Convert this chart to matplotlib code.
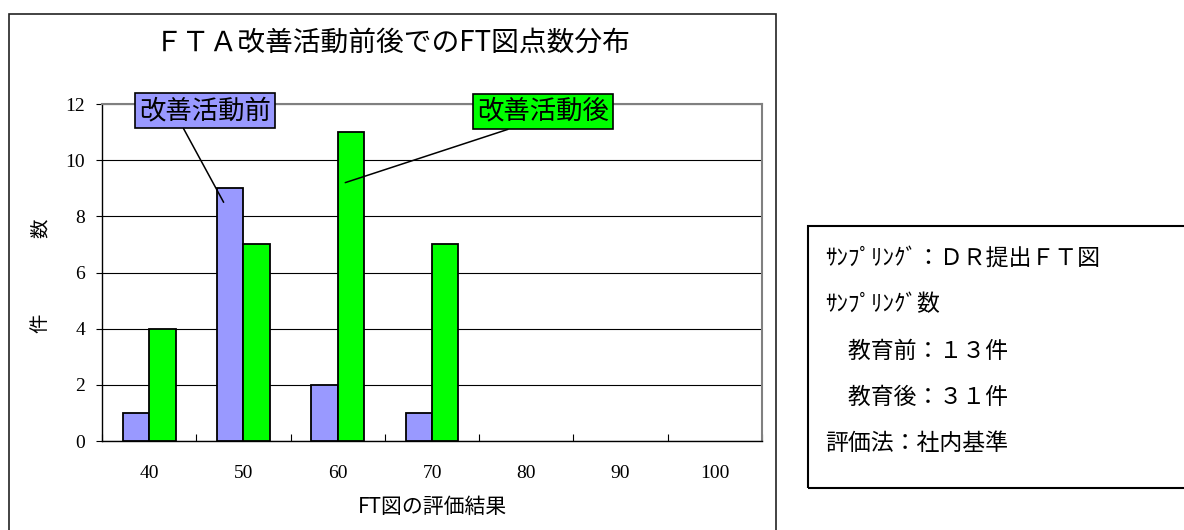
"""FTA改善活動前後でのFT図点数分布 — grouped bar chart with callouts and a note box."""
import matplotlib
matplotlib.use("Agg")
import matplotlib.pyplot as plt
from matplotlib.patches import Rectangle
import numpy as np

CJK = ["Noto Sans CJK JP", "DejaVu Sans"]
SERIF = ["Liberation Serif", "DejaVu Serif"]

categories = ["40", "50", "60", "70", "80", "90", "100"]
before = [1, 9, 2, 1, 0, 0, 0]     # 改善活動前
after = [4, 7, 11, 7, 0, 0, 0]     # 改善活動後
yticks = [0, 2, 4, 6, 8, 10, 12]

title = "ＦＴＡ改善活動前後でのFT図点数分布"
xlabel = "FT図の評価結果"
ylabel = ["件", "数"]
note_lines = ["ｻﾝﾌﾟﾘﾝｸﾞ：ＤＲ提出ＦＴ図", "ｻﾝﾌﾟﾘﾝｸﾞ数", "　教育前：１３件",
              "　教育後：３１件", "評価法：社内基準"]

BLUE = "#9999FF"
GREEN = "#00FF00"
W, H = 1184, 530

fig = plt.figure(figsize=(W / 100, H / 100), dpi=100)

# outer chart frame
fig.patches.append(Rectangle((9 / W, -0.02), (776 - 9) / W, 1.02 - 14 / H,
                             transform=fig.transFigure, fill=False,
                             edgecolor="#222222", linewidth=1.2))
fig.text(393 / W, 1 - 43 / H, title, family=CJK, fontsize=20,
         ha="center", va="center")

ax = fig.add_axes([102 / W, 89 / H, 660 / W, 337 / H])
x = np.arange(len(categories))
bw = 0.28
b = np.array(before)
a = np.array(after)
ax.bar(x[b > 0] - bw / 2, b[b > 0], bw, color=BLUE, edgecolor="black", linewidth=1.3, zorder=3)
ax.bar(x[a > 0] + bw / 2, a[a > 0], bw, color=GREEN, edgecolor="black", linewidth=1.3, zorder=3)

ax.set_xlim(-0.5, len(categories) - 0.5)
ax.set_ylim(0, 12)
ax.set_yticks(yticks)
ax.set_yticklabels([str(v) for v in yticks], family=SERIF, fontsize=14)
ax.set_xticks(x)
ax.set_xticklabels(categories, family=SERIF, fontsize=14)
ax.set_xticks(np.arange(len(categories) + 1) - 0.5, minor=True)
ax.tick_params(axis="x", which="major", length=0, pad=17)
ax.tick_params(axis="x", which="minor", direction="in", length=5, width=0.8)
ax.tick_params(axis="y", direction="out", length=4, width=0.8, pad=8)
ax.grid(axis="y", color="black", linewidth=0.8, zorder=0)
for s in ("top", "right"):
    ax.spines[s].set_color("#808080")
    ax.spines[s].set_linewidth(1.5)
for s in ("left", "bottom"):
    ax.spines[s].set_color("black")
    ax.spines[s].set_linewidth(1.0)

ax.set_xlabel(xlabel, family=CJK, fontsize=15)
ax.xaxis.set_label_coords(0.5, -0.196)
ax.xaxis.label.set_va("center")
# y label: two characters spread apart as in the original
for ch, yy in zip(ylabel, [0.35, 0.63]):
    ax.text(-0.094, yy, ch, transform=ax.transAxes, family=CJK, fontsize=14,
            rotation=90, ha="center", va="center")

# callouts
ax.annotate("改善活動前", xy=(0.79, 8.5), xytext=(0.59, 11.77),
            family=CJK, fontsize=19, ha="center", va="center",
            bbox=dict(boxstyle="square,pad=0.15", fc=BLUE, ec="black", lw=1.2),
            arrowprops=dict(arrowstyle="-", color="black", lw=1.1,
                            relpos=(0.32, 0.0), shrinkA=0, shrinkB=0),
            zorder=5)
ax.annotate("改善活動後", xy=(2.08, 9.2), xytext=(4.18, 11.74),
            family=CJK, fontsize=19, ha="center", va="center",
            bbox=dict(boxstyle="square,pad=0.15", fc=GREEN, ec="black", lw=1.2),
            arrowprops=dict(arrowstyle="-", color="black", lw=1.1,
                            relpos=(0.4, 0.1), shrinkA=0, shrinkB=0),
            zorder=5)

# note box on the right
fig.patches.append(Rectangle((808 / W, 1 - 488 / H), 0.5, (488 - 226) / H,
                             transform=fig.transFigure, fill=False,
                             edgecolor="black", linewidth=1.5))
for i, line in enumerate(note_lines):
    fig.text(825 / W, 1 - (258 + 46.5 * i) / H, line, family=CJK, fontsize=16.5,
             ha="left", va="center")

fig.savefig("out.png", dpi=100)
